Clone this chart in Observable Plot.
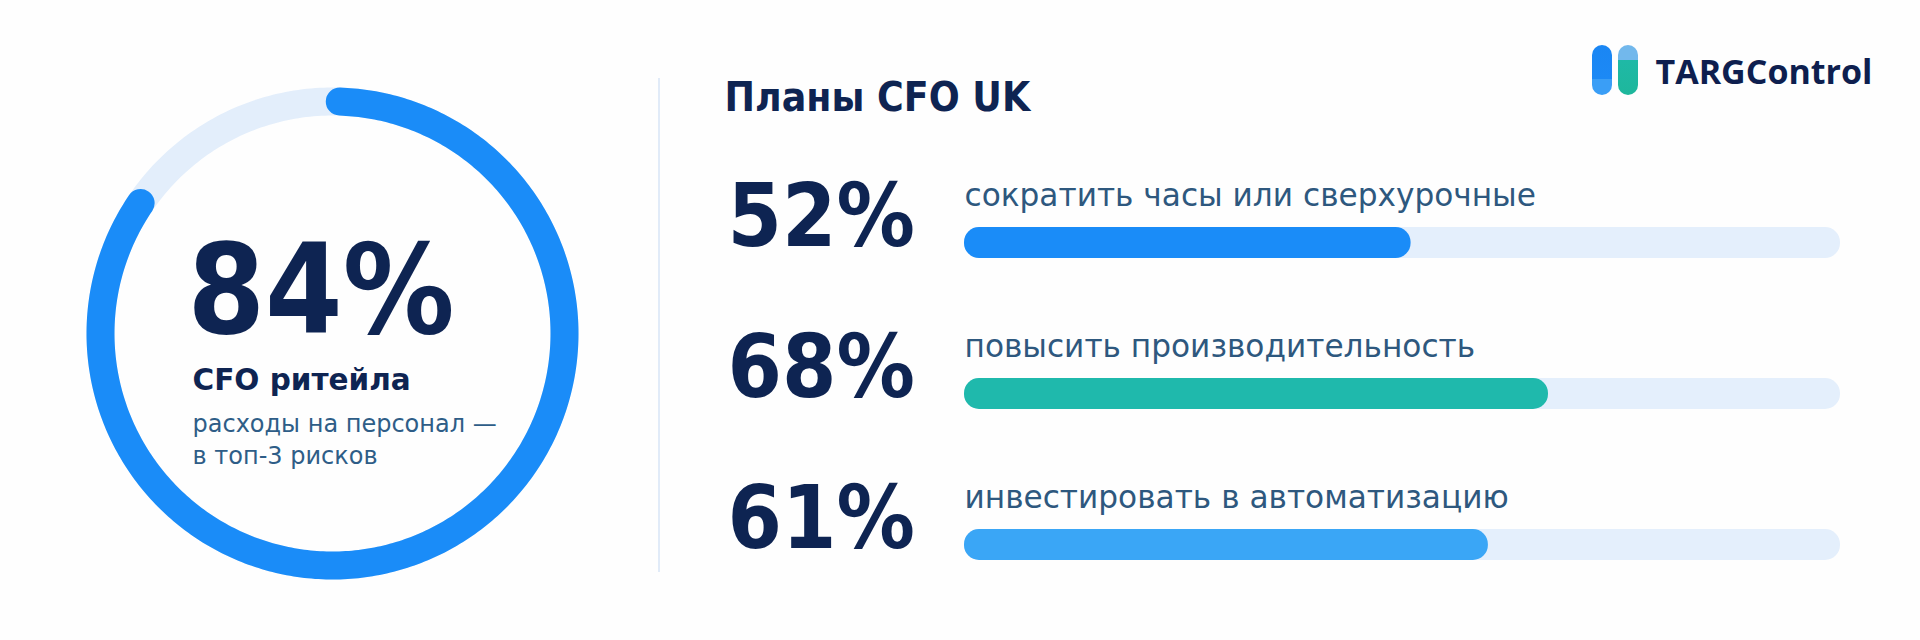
<!DOCTYPE html>
<html>
<head>
<meta charset="utf-8">
<script src="https://cdn.jsdelivr.net/npm/d3@7"></script>
<script src="https://cdn.jsdelivr.net/npm/@observablehq/plot@0.6"></script>
<style>
  html, body { margin: 0; padding: 0; background: #ffffff; }
  #wrap { position: relative; width: 1920px; height: 640px; overflow: hidden; background: #fefefe; }
  #wrap svg { position: absolute; left: 0; top: 0; background: transparent; }
  .divider { position: absolute; left: 658px; top: 78px; width: 2px; height: 494px; background: #e1ebf8; }
  .pill { position: absolute; top: 45px; width: 20px; height: 50px; border-radius: 10px; }
  #p1 { left: 1592px; background: linear-gradient(#1a86f4 0%, #1c89f5 68%, #3a9ef6 68%, #3a9ef6 100%); }
  #p2 { left: 1618px; background: linear-gradient(#72b8ec 0%, #72b8ec 30%, #1fb9a6 30%, #1eb79c 100%); }
</style>
</head>
<body>
<div id="wrap">
  <div class="divider"></div>
  <div class="pill" id="p1"></div>
  <div class="pill" id="p2"></div>
</div>
<script>
// ---- data ----
const ringValue = 84;
const ringTitle = "CFO ритейла";
const ringCaption = ["расходы на персонал —", "в топ-3 рисков"];
const planTitle = "Планы CFO UK";
const planLabels = [
  "сократить часы или сверхурочные",
  "повысить производительность",
  "инвестировать в автоматизацию"
];
const planValues = [52, 68, 61];
const brand = "TARGControl";

// ---- styles ----
const navy = "#0e2452";
const blueFill = "#1a8cf8";
const trackFill = "#e3eefb";
const barColors = ["#1a8cf8", "#1fb9ac", "#3aa6f6"];

// ---- ring (donut) ----
const N = 360;
const startOffset = 0.005; // the arc begins just right of 12 o'clock
const arcPoints = (from, frac) => d3.range(N + 1).map(i => {
  const t = (from + (i / N) * frac) * 2 * Math.PI;
  return {x: Math.sin(t), y: Math.cos(t)};
});
const trackPts = arcPoints(0, 1);
const progressPts = arcPoints(startOffset, ringValue / 100);

const ring = Plot.plot({
  width: 664, height: 640,
  marginLeft: 100, marginRight: 100, marginTop: 101, marginBottom: 75,
  x: {domain: [-1, 1], axis: null},
  y: {domain: [-1, 1], axis: null},
  style: {background: "transparent", overflow: "visible"},
  marks: [
    Plot.line(trackPts, {x: "x", y: "y", stroke: trackFill, strokeWidth: 28}),
    Plot.line(progressPts, {x: "x", y: "y", stroke: blueFill, strokeWidth: 28, strokeLinecap: "round"}),
    Plot.text([`${ringValue}%`], {text: d => d, frameAnchor: "left", textAnchor: "start", lineAnchor: "bottom",
      dx: 87, dy: -1, fontSize: 124, fontWeight: 700, fontFamily: "DejaVu Sans Condensed", fill: navy}),
    Plot.text([ringTitle], {text: d => d, frameAnchor: "left", textAnchor: "start", lineAnchor: "bottom",
      dx: 92, dy: 56, fontSize: 29.5, fontWeight: 700, fontFamily: "DejaVu Sans", fill: navy}),
    Plot.text([ringCaption.join("\n")], {text: d => d, frameAnchor: "left", textAnchor: "start", lineAnchor: "bottom",
      lineHeight: 32 / 24, dx: 92, dy: 130, fontSize: 24, fontFamily: "DejaVu Sans", fill: "#2e5d87"})
  ]
});

// ---- bars ----
const rows = planLabels.map((label, i) => ({label, value: planValues[i]}));
const xMax = 102;

const bars = Plot.plot({
  width: 1920, height: 640,
  marginLeft: 964, marginRight: 80, marginTop: 167, marginBottom: 20,
  x: {domain: [0, xMax], axis: null},
  y: {domain: planLabels, axis: null, padding: 0},
  color: {domain: planLabels, range: barColors},
  style: {background: "transparent", overflow: "visible"},
  marks: [
    Plot.barX(rows, {x1: d => 0, x2: d => xMax, y: "label", fill: "#e4effc", rx: 15, insetTop: 60, insetBottom: 60}),
    Plot.barX(rows, {x1: d => 0, x2: "value", y: "label", fill: "label", rx: 15, insetTop: 60, insetBottom: 60}),
    Plot.text(rows, {x: d => 0, y: "label", text: d => `${d.value}%`, textAnchor: "start", lineAnchor: "bottom",
      dx: -237, dy: 2.5, fontSize: 87, fontWeight: 700, fontFamily: "DejaVu Sans Condensed", fill: navy}),
    Plot.text(rows, {x: d => 0, y: "label", text: "label", textAnchor: "start", lineAnchor: "bottom",
      dy: -37.5, fontSize: 31.2, fontFamily: "DejaVu Sans", fill: "#2e587e"}),
    Plot.text([planTitle], {text: d => d, frameAnchor: "top-left", textAnchor: "start", lineAnchor: "bottom",
      dx: -240, dy: -57, fontSize: 40.5, fontWeight: 700, fontFamily: "DejaVu Sans Condensed", fill: navy}),
    Plot.text([brand], {text: d => d, frameAnchor: "top-right", textAnchor: "start", lineAnchor: "bottom",
      dx: -185, dy: -84, fontSize: 34, fontWeight: 700, fontFamily: "Open Sans", fill: "#0e1f4f"})
  ]
});

const wrap = document.getElementById("wrap");
wrap.appendChild(ring);
wrap.appendChild(bars);
</script>
</body>
</html>
